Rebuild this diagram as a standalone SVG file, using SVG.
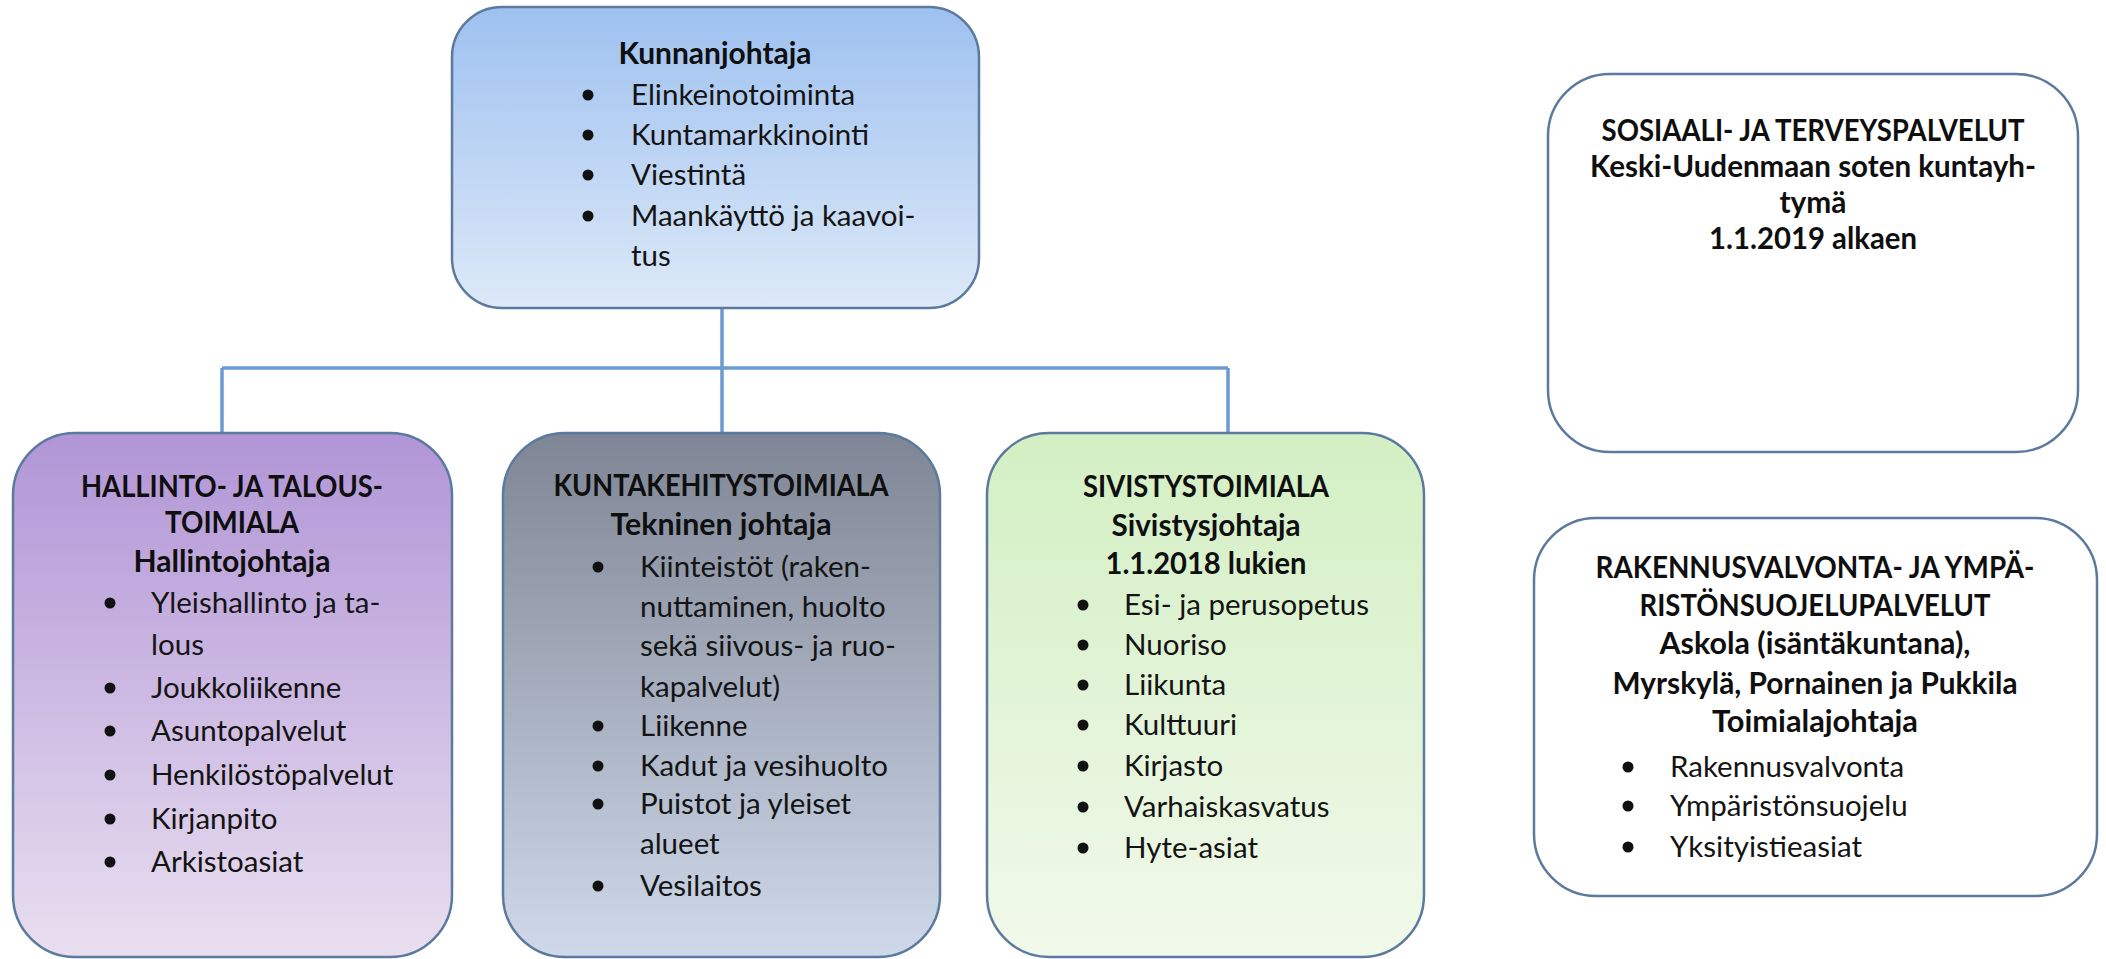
<svg xmlns="http://www.w3.org/2000/svg" width="2106" height="959" viewBox="0 0 2106 959">
<defs>
<linearGradient id="gBlue" x1="0" y1="0" x2="0" y2="1"><stop offset="0" stop-color="#9EC1F0"/><stop offset="1" stop-color="#DDE9F8"/></linearGradient>
<linearGradient id="gPurple" x1="0" y1="0" x2="0" y2="1"><stop offset="0" stop-color="#B195D6"/><stop offset="1" stop-color="#E9DFF0"/></linearGradient>
<linearGradient id="gSlate" x1="0" y1="0" x2="0" y2="1"><stop offset="0" stop-color="#7E8594"/><stop offset="1" stop-color="#CFD9EA"/></linearGradient>
<linearGradient id="gGreen" x1="0" y1="0" x2="0" y2="1"><stop offset="0" stop-color="#D3EFC3"/><stop offset="1" stop-color="#F1F9EB"/></linearGradient>
</defs>
<style>
.box{stroke:#5B7A9E;stroke-width:2.5}
.t{font-family:Lato,"Open Sans","Liberation Sans",sans-serif;font-size:29.5px;fill:#141414}
.b{font-weight:bold;font-size:30.5px;fill:#0f0f0f}
.c{text-anchor:middle}
.dot{fill:#111}
.con{stroke:#6C9BD2;stroke-width:3.5;fill:none}
</style>
<rect width="2106" height="959" fill="#ffffff"/>
<g id="connectors">
<path class="con" d="M722 308V368M222 368H1228M222 368V433M722 368V433M1228 368V433"/>
</g>
<g id="kunnanjohtaja">
<rect class="box" x="452" y="7" width="527" height="301" rx="50" fill="url(#gBlue)"/>
<text class="t b c" x="715" y="64" textLength="193" lengthAdjust="spacingAndGlyphs">Kunnanjohtaja</text>
<circle class="dot" cx="588" cy="95" r="5.5"/><text class="t" x="631" y="105">Elinkeinotoiminta</text>
<circle class="dot" cx="588" cy="135" r="5.5"/><text class="t" x="631" y="145">Kuntamarkkinointi</text>
<circle class="dot" cx="588" cy="175" r="5.5"/><text class="t" x="631" y="185">Viestintä</text>
<circle class="dot" cx="588" cy="216" r="5.5"/><text class="t" x="631" y="226">Maankäyttö ja kaavoi-</text>
<text class="t" x="631" y="266">tus</text>
</g>
<g id="hallinto">
<rect class="box" x="13" y="433" width="439" height="524" rx="62" fill="url(#gPurple)"/>
<text class="t b c" x="232" y="497" textLength="302" lengthAdjust="spacingAndGlyphs">HALLINTO- JA TALOUS-</text>
<text class="t b c" x="232" y="533" textLength="134" lengthAdjust="spacingAndGlyphs">TOIMIALA</text>
<text class="t b c" x="232" y="572" textLength="197" lengthAdjust="spacingAndGlyphs">Hallintojohtaja</text>
<circle class="dot" cx="110" cy="603" r="5.5"/><text class="t" x="151" y="613">Yleishallinto ja ta-</text>
<text class="t" x="151" y="655">lous</text>
<circle class="dot" cx="110" cy="688" r="5.5"/><text class="t" x="151" y="698">Joukkoliikenne</text>
<circle class="dot" cx="110" cy="731" r="5.5"/><text class="t" x="151" y="741">Asuntopalvelut</text>
<circle class="dot" cx="110" cy="775" r="5.5"/><text class="t" x="151" y="785">Henkilöstöpalvelut</text>
<circle class="dot" cx="110" cy="819" r="5.5"/><text class="t" x="151" y="829">Kirjanpito</text>
<circle class="dot" cx="110" cy="862" r="5.5"/><text class="t" x="151" y="872">Arkistoasiat</text>
</g>
<g id="kuntakehitys">
<rect class="box" x="503" y="433" width="437" height="524" rx="62" fill="url(#gSlate)"/>
<text class="t b c" x="721" y="496" textLength="335" lengthAdjust="spacingAndGlyphs">KUNTAKEHITYSTOIMIALA</text>
<text class="t b c" x="721" y="535" textLength="221" lengthAdjust="spacingAndGlyphs">Tekninen johtaja</text>
<circle class="dot" cx="598" cy="567" r="5.5"/><text class="t" x="640" y="577">Kiinteistöt (raken-</text>
<text class="t" x="640" y="617">nuttaminen, huolto</text>
<text class="t" x="640" y="656">sekä siivous- ja ruo-</text>
<text class="t" x="640" y="697">kapalvelut)</text>
<circle class="dot" cx="598" cy="726" r="5.5"/><text class="t" x="640" y="736">Liikenne</text>
<circle class="dot" cx="598" cy="766" r="5.5"/><text class="t" x="640" y="776">Kadut ja vesihuolto</text>
<circle class="dot" cx="598" cy="804" r="5.5"/><text class="t" x="640" y="814">Puistot ja yleiset</text>
<text class="t" x="640" y="854">alueet</text>
<circle class="dot" cx="598" cy="886" r="5.5"/><text class="t" x="640" y="896">Vesilaitos</text>
</g>
<g id="sivistys">
<rect class="box" x="987" y="433" width="437" height="524" rx="62" fill="url(#gGreen)"/>
<text class="t b c" x="1206" y="497" textLength="246" lengthAdjust="spacingAndGlyphs">SIVISTYSTOIMIALA</text>
<text class="t b c" x="1206" y="536" textLength="189" lengthAdjust="spacingAndGlyphs">Sivistysjohtaja</text>
<text class="t b c" x="1206" y="574" textLength="201" lengthAdjust="spacingAndGlyphs">1.1.2018 lukien</text>
<circle class="dot" cx="1083" cy="605" r="5.5"/><text class="t" x="1124" y="615">Esi- ja perusopetus</text>
<circle class="dot" cx="1083" cy="645" r="5.5"/><text class="t" x="1124" y="655">Nuoriso</text>
<circle class="dot" cx="1083" cy="685" r="5.5"/><text class="t" x="1124" y="695">Liikunta</text>
<circle class="dot" cx="1083" cy="725" r="5.5"/><text class="t" x="1124" y="735">Kulttuuri</text>
<circle class="dot" cx="1083" cy="766" r="5.5"/><text class="t" x="1124" y="776">Kirjasto</text>
<circle class="dot" cx="1083" cy="807" r="5.5"/><text class="t" x="1124" y="817">Varhaiskasvatus</text>
<circle class="dot" cx="1083" cy="848" r="5.5"/><text class="t" x="1124" y="858">Hyte-asiat</text>
</g>
<g id="sote">
<rect class="box" x="1548" y="74" width="530" height="378" rx="62" fill="#ffffff"/>
<text class="t b c" x="1813" y="141" textLength="423" lengthAdjust="spacingAndGlyphs">SOSIAALI- JA TERVEYSPALVELUT</text>
<text class="t b c" x="1813" y="177" textLength="446" lengthAdjust="spacingAndGlyphs">Keski-Uudenmaan soten kuntayh-</text>
<text class="t b c" x="1813" y="213" textLength="67" lengthAdjust="spacingAndGlyphs">tymä</text>
<text class="t b c" x="1813" y="249" textLength="208" lengthAdjust="spacingAndGlyphs">1.1.2019 alkaen</text>
</g>
<g id="rakennusvalvonta">
<rect class="box" x="1534" y="518" width="563" height="378" rx="62" fill="#ffffff"/>
<text class="t b c" x="1815" y="578" textLength="439" lengthAdjust="spacingAndGlyphs">RAKENNUSVALVONTA- JA YMPÄ-</text>
<text class="t b c" x="1815" y="616" textLength="351" lengthAdjust="spacingAndGlyphs">RISTÖNSUOJELUPALVELUT</text>
<text class="t b c" x="1815" y="654" textLength="311" lengthAdjust="spacingAndGlyphs">Askola (isäntäkuntana),</text>
<text class="t b c" x="1815" y="694" textLength="405" lengthAdjust="spacingAndGlyphs">Myrskylä, Pornainen ja Pukkila</text>
<text class="t b c" x="1815" y="732" textLength="206" lengthAdjust="spacingAndGlyphs">Toimialajohtaja</text>
<circle class="dot" cx="1628" cy="767" r="5.5"/><text class="t" x="1670" y="777">Rakennusvalvonta</text>
<circle class="dot" cx="1628" cy="806" r="5.5"/><text class="t" x="1670" y="816">Ympäristönsuojelu</text>
<circle class="dot" cx="1628" cy="847" r="5.5"/><text class="t" x="1670" y="857">Yksityistieasiat</text>
</g>
</svg>
